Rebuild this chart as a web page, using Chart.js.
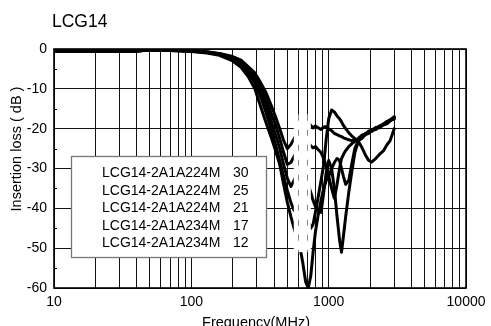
<!DOCTYPE html>
<html>
<head>
<meta charset="utf-8">
<script src="https://cdn.jsdelivr.net/npm/chart.js@4"></script>
<style>
  html, body { margin: 0; padding: 0; background: #fff; overflow: hidden; }
  canvas { display: block; }
</style>
</head>
<body>
<canvas id="c" width="491" height="326"></canvas>
<script>
// ---- data ----
const chartTitle = 'LCG14';
const xAxisTitle = 'Frequency(MHz)';
const yAxisTitle = 'Insertion loss ( dB )';

const frequencies = [10, 20, 40, 45, 70, 100, 130, 160, 200, 230, 260, 290, 320, 350, 380, 410, 440, 470, 500, 530, 560, 590, 620, 650, 680, 710, 740, 770, 800, 840, 880, 920, 960, 1000, 1050, 1100, 1150, 1200, 1240, 1280, 1330, 1400, 1470, 1550, 1650, 1750, 1850, 1950, 2050, 2200, 2350, 2500, 2650, 2800, 3000];

const partNames = ['LCG14-2A1A224M', 'LCG14-2A1A224M', 'LCG14-2A1A224M', 'LCG14-2A1A234M', 'LCG14-2A1A234M'];
const partValues = ['30', '25', '21', '17', '12'];

const loss30 = [0.2, 0.2, 0.2, -0.1, -0.2, -0.4, -0.7, -1.1, -1.9, -2.8, -4.5, -6, -8.5, -11, -14, -17, -20, -23, -25, -24, -22.5, -21, -19.8, -18.5, -18, -18.3, -19.2, -19.8, -19.3, -19.8, -20.2, -19.6, -19.5, -20, -20.5, -21.2, -21.5, -21.8, -22, -22.3, -22.5, -22.8, -23, -23, -22.4, -21.6, -21.4, -20.6, -20.5, -19.7, -19.6, -18.8, -18.7, -17.9, -17.6];
const loss25 = [0.2, 0.2, 0.2, -0.15, -0.25, -0.45, -0.75, -1.2, -2.1, -3.1, -5, -6.8, -9.5, -12.5, -16, -19, -22.5, -26, -29, -28.5, -27, -25.5, -24.5, -23.8, -23.5, -23.6, -24.3, -24.8, -24.5, -25.3, -26, -27.5, -29.5, -32, -35, -37.5, -34, -30, -27.5, -26.5, -25.5, -24.5, -23.8, -23.2, -22.6, -21.8, -21.6, -20.8, -20.7, -19.9, -19.8, -19, -18.8, -18.1, -17.4];
const loss21 = [-0.3, -0.3, -0.3, -0.2, -0.3, -0.5, -0.8, -1.3, -2.3, -3.5, -5.5, -7.5, -10.5, -14, -18, -21.5, -25, -29, -32.5, -34.5, -33, -31, -30.5, -31, -32.5, -34, -36, -38, -39.5, -40.5, -41, -36, -31, -28, -30, -35, -42, -48, -51, -47, -42, -36, -31, -26, -23, -22.4, -21.4, -21.2, -20.4, -20.2, -19.4, -19.1, -18.3, -18, -17.2];
const loss17 = [-0.6, -0.6, -0.6, -0.3, -0.35, -0.55, -0.9, -1.4, -2.6, -4, -6, -8.5, -12, -16, -20, -24, -28, -32, -35.5, -38.5, -40.5, -39.5, -38, -38, -40, -43, -45, -44, -41, -37, -33, -29, -22.5, -17.5, -15.3, -15.8, -16.8, -17.5, -18.3, -19.2, -20, -21, -21.8, -22.5, -23.3, -24.8, -26.6, -27.9, -28.4, -27.5, -26.4, -25.6, -24.1, -23, -20];
const loss12 = [-0.6, -0.6, -0.6, -0.35, -0.4, -0.6, -1, -1.6, -3, -4.6, -7, -10, -14.5, -18.5, -22, -25.5, -29, -34, -38.5, -42, -45, -47.5, -50, -54, -58.5, -60, -57, -51, -46, -41.5, -38, -35, -33, -32, -30, -28.5, -27.5, -28, -30, -32, -34, -33, -29, -25, -22.8, -22, -21.2, -21, -20.3, -20, -19.3, -18.9, -18.2, -17.8, -17];

const seriesValues = [loss30, loss25, loss21, loss17, loss12];

const xTickValues = [10, 100, 1000, 10000];
const xTickLabels = ['10', '100', '1000', '10000'];
const yTickValues = [0, -10, -20, -30, -40, -50, -60];
const yTickLabels = ['0', '-10', '-20', '-30', '-40', '-50', '-60'];
const yMinorTicks = [-5, -15, -25, -35, -45, -55];

// ---- styling ----
const FONT = "'Liberation Sans', Arial, Helvetica, sans-serif";
const BAND = { fLo: 557, fHi: 741, dbTop: -16.5, dbBottom: -51, dashed: [600, 700] };

const decor = {
  id: 'decor',
  beforeDraw(chart) {
    const ctx = chart.ctx;
    ctx.save();
    ctx.fillStyle = '#fff';
    ctx.fillRect(0, 0, chart.width, chart.height);
    ctx.restore();
  },
  afterDatasetsDraw(chart) {
    const { ctx, chartArea: a, scales: { x, y } } = chart;
    ctx.save();
    // white band artefact over the curves
    const bx0 = x.getPixelForValue(BAND.fLo), bx1 = x.getPixelForValue(BAND.fHi);
    const by0 = y.getPixelForValue(BAND.dbTop), by1 = y.getPixelForValue(BAND.dbBottom);
    ctx.fillStyle = '#fff';
    ctx.fillRect(bx0, by0, bx1 - bx0, by1 - by0);
    ctx.strokeStyle = '#888';
    ctx.lineWidth = 1;
    ctx.setLineDash([6, 9]);
    BAND.dashed.forEach(f => {
      const px = Math.round(x.getPixelForValue(f)) + 0.5;
      ctx.beginPath(); ctx.moveTo(px, by0); ctx.lineTo(px, by1); ctx.stroke();
    });
    ctx.setLineDash([]);

    // minor y ticks inside left edge
    ctx.strokeStyle = '#000';
    ctx.lineWidth = 1;
    yMinorTicks.forEach(v => {
      const py = Math.round(y.getPixelForValue(v)) + 0.5;
      ctx.beginPath(); ctx.moveTo(a.left, py); ctx.lineTo(a.left + 3, py); ctx.stroke();
    });

    // legend box (text only, no swatches)
    const lx = a.left + 17, ly = a.top + 107, lw = 195, lh = 101;
    ctx.fillStyle = '#fff';
    ctx.fillRect(lx, ly, lw, lh);
    ctx.strokeStyle = '#777';
    ctx.lineWidth = 1.3;
    ctx.strokeRect(lx + 0.5, ly + 0.5, lw, lh);
    ctx.fillStyle = '#000';
    ctx.font = '14px ' + FONT;
    ctx.textBaseline = 'middle';
    ctx.textAlign = 'left';
    partNames.forEach((n, i) => {
      const ty = ly + 17.6 + i * 17.4;
      ctx.fillText(n, lx + 31, ty);
      ctx.fillText(partValues[i], lx + 162, ty);
    });

    // frame
    ctx.strokeStyle = '#000';
    ctx.lineWidth = 1.6;
    ctx.strokeRect(a.left, a.top, a.right - a.left, a.bottom - a.top);
    ctx.restore();
  },
  afterDraw(chart) {
    const { ctx } = chart;
    ctx.save();
    ctx.fillStyle = '#000';
    ctx.font = '17.5px ' + FONT;
    ctx.textAlign = 'left';
    ctx.textBaseline = 'alphabetic';
    ctx.fillText(chartTitle, 52, 27);

    ctx.font = '14.5px ' + FONT;
    ctx.textAlign = 'center';
    ctx.textBaseline = 'alphabetic';
    ctx.fillText(xAxisTitle, 256, 327);

    ctx.translate(21, 149);
    ctx.rotate(-Math.PI / 2);
    ctx.textBaseline = 'alphabetic';
    ctx.fillText(yAxisTitle, 0, 0);
    ctx.restore();
  }
};

const datasets = seriesValues.map((vals, i) => ({
  label: partNames[i] + ' ' + partValues[i],
  data: vals,
  borderColor: '#000',
  borderWidth: 3,
  pointRadius: 0,
  tension: 0,
  fill: false,
  borderJoinStyle: 'round',
  borderCapStyle: 'round'
}));

new Chart(document.getElementById('c'), {
  type: 'line',
  data: { labels: frequencies, datasets },
  options: {
    responsive: false,
    animation: false,
    devicePixelRatio: 1,
    layout: { padding: { top: 49, right: 23, left: 0, bottom: 0 } },
    plugins: { legend: { display: false }, tooltip: { enabled: false }, title: { display: false } },
    scales: {
      x: {
        type: 'logarithmic',
        min: 10, max: 10000,
        afterBuildTicks(scale) {
          const t = [];
          for (let d = 10; d < 10000; d *= 10) for (let k = 1; k < 10; k++) t.push({ value: d * k });
          t.push({ value: 10000 });
          scale.ticks = t;
        },
        afterFit(scale) { scale.height = 38; },
        ticks: {
          autoSkip: false, maxRotation: 0, minRotation: 0, padding: 5.5,
          color: '#000', font: { family: FONT, size: 14 },
          callback(value) {
            const i = xTickValues.indexOf(Math.round(value));
            return i >= 0 ? xTickLabels[i] : '';
          }
        },
        grid: { color: '#111', lineWidth: 1, drawTicks: false },
        border: { display: false }
      },
      y: {
        type: 'linear',
        min: -60, max: 0,
        afterBuildTicks(scale) { scale.ticks = yTickValues.map(v => ({ value: v })); },
        afterFit(scale) { scale.width = 54; },
        ticks: {
          padding: 7, color: '#000', font: { family: FONT, size: 14 },
          callback(value) {
            const i = yTickValues.indexOf(value);
            return i >= 0 ? yTickLabels[i] : '';
          }
        },
        grid: { color: '#111', lineWidth: 1, drawTicks: false },
        border: { display: false }
      }
    }
  },
  plugins: [decor]
});
</script>
</body>
</html>
